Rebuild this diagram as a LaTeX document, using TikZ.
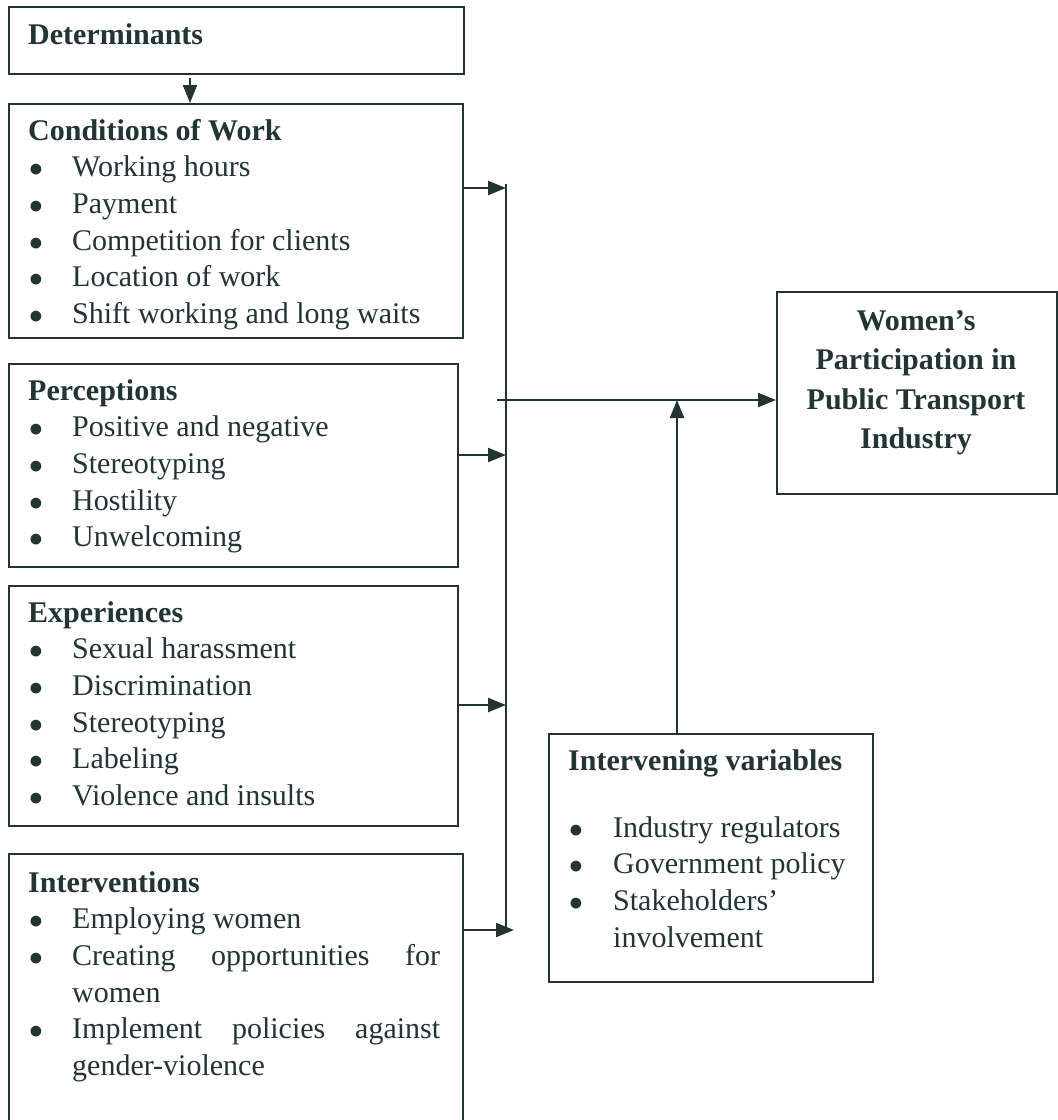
\documentclass[tikz,border=0pt]{standalone}
\usepackage{fontspec}
\usepackage{graphicx}
\setmainfont{Liberation Serif}
\usetikzlibrary{arrows.meta}
\definecolor{ink}{HTML}{233434}

\tikzset{
  box/.style={draw=ink, line width=2pt, inner sep=0pt, anchor=north west},
  txt/.style={anchor=north west, align=left, inner sep=0pt, text=ink,
    font=\fontsize{30}{36.6}\selectfont},
  arr/.style={draw=ink, line width=2.2pt, -{Triangle[length=18pt,width=14pt]}},
}
\newcommand{\bul}{\makebox[44pt][l]{\raisebox{-8pt}[0pt][0pt]{\scalebox{1.5}{\textbullet}}}}
\newcommand{\ibul}{\makebox[45pt][l]{\raisebox{-8pt}[0pt][0pt]{\scalebox{1.5}{\textbullet}}}}
\newcommand{\fst}{\rule{0pt}{24pt}}

\begin{document}
\begin{tikzpicture}[x=1pt, y=-1pt]
    \useasboundingbox[fill=white] (0,0) rectangle (1058,1120);
    \clip (0,0) rectangle (1058,1120);

    % boxes
    \node[box, minimum width=455pt, minimum height=67pt] (det) at (8,6) {};
    \node[box, minimum width=454pt, minimum height=234pt] (cond) at (8,103) {};
    \node[box, minimum width=449pt, minimum height=203pt] (perc) at (8,363) {};
    \node[box, minimum width=449pt, minimum height=240pt] (expr) at (8,585) {};
    \node[box, minimum width=454pt, minimum height=290pt] (intv) at (8,853) {};
    \node[box, minimum width=280pt, minimum height=202pt] (women) at (776,291) {};
    \node[box, minimum width=324pt, minimum height=248pt] (ivar) at (548,733) {};

    % texts
    \node[txt] (detT) at (28,20) {\fst\textbf{Determinants}};
    \node[txt] (condT) at (28,116) {\fst\textbf{Conditions of Work}\\
        \bul Working hours\\ \bul Payment\\ \bul Competition for clients\\
        \bul Location of work\\ \bul Shift working and long waits};
    \node[txt] (percT) at (28,376) {\fst\textbf{Perceptions}\\
        \bul Positive and negative\\ \bul Stereotyping\\ \bul Hostility\\
        \bul Unwelcoming};
    \node[txt] (exprT) at (28,598) {\fst\textbf{Experiences}\\
        \bul Sexual harassment\\ \bul Discrimination\\ \bul Stereotyping\\
        \bul Labeling\\ \bul Violence and insults};
    \node[txt] (intvT) at (28,868) {\fst\textbf{Interventions}\\
        \bul Employing women\\
        \bul \makebox[368pt][s]{Creating opportunities for}\\
        \hspace*{44pt}women\\
        \bul \makebox[368pt][s]{Implement policies against}\\
        \hspace*{44pt}gender-violence};
    \node[txt, anchor=north, align=center, font=\fontsize{30}{39.5}\selectfont\bfseries]
        (womenT) at (916,306) {\fst Women's\\ Participation in\\ Public Transport\\ Industry};
    \node[txt] (ivarT) at (568,746) {\fst\textbf{Intervening variables}\\[30.4pt]
        \ibul Industry regulators\\ \ibul Government policy\\
        \ibul Stakeholders'\\ \hspace*{45pt}involvement};

    % connectors
    \coordinate (d1) at (190,78);
    \coordinate (ctop) at (506,184);
    \coordinate (cbot) at (506,930);
    \coordinate (c1) at (506,188);
    \coordinate (c2) at (506,455);
    \coordinate (c3) at (506,705);
    \coordinate (c4) at (514,930);
    \coordinate (hub) at (497,400);
    \coordinate (mid) at (677,400);

    \draw[arr] (d1) -- (d1 |- cond.north);
    \draw[draw=ink, line width=2.2pt] (ctop) -- (cbot);
    \draw[arr] (cond.east |- c1) -- (c1);
    \draw[arr] (perc.east |- c2) -- (c2);
    \draw[arr] (expr.east |- c3) -- (c3);
    \draw[arr] (intv.east |- c4) -- (c4);
    \draw[arr] (hub) -- (hub -| women.west);
    \draw[arr] (mid |- ivar.north) -- (mid);
\end{tikzpicture}
\end{document}
